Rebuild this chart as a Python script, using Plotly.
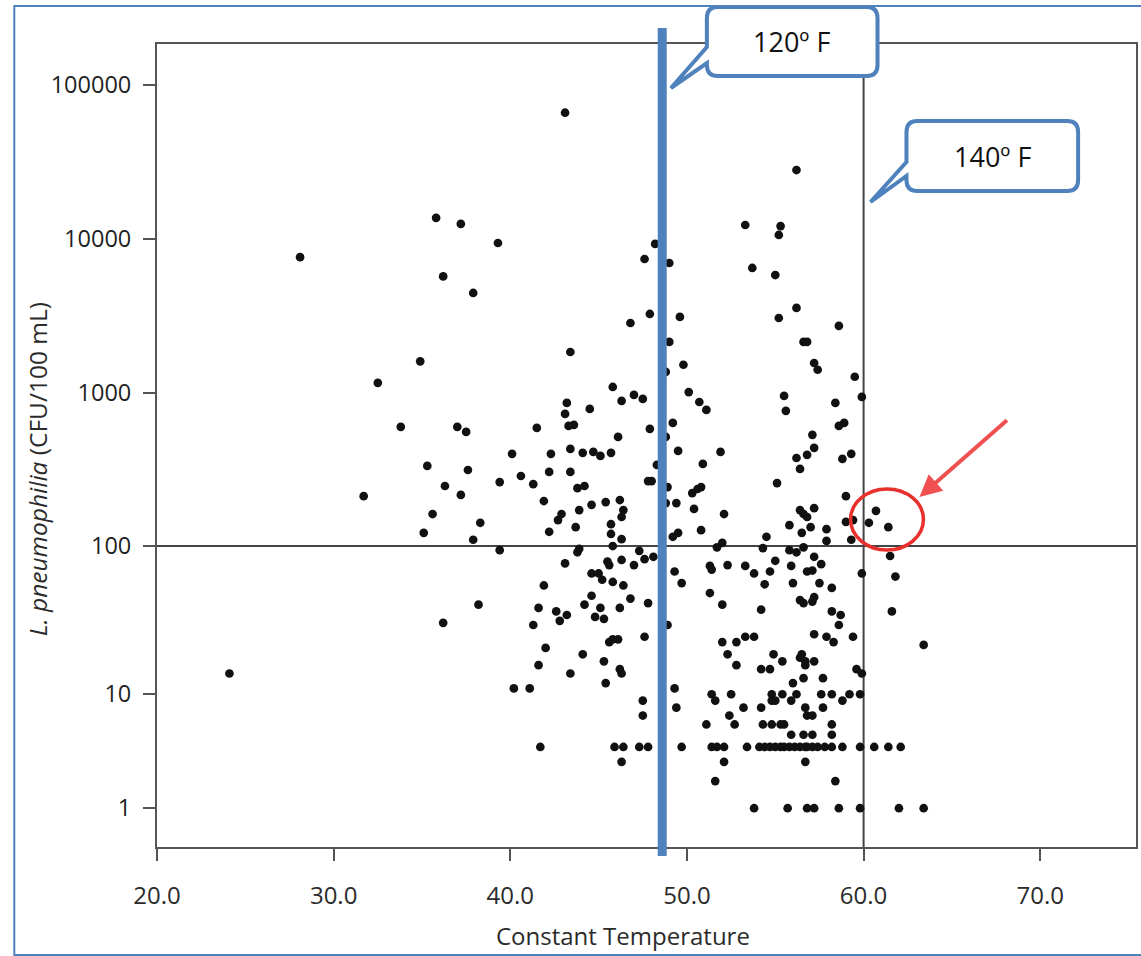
import plotly.graph_objects as go

# ---------------- data ----------------
# Temperature in deg C, L. pneumophila in CFU/100 mL
A_temp = [35.8, 37.2, 39.3, 28.1, 36.2, 37.9, 34.9, 32.5, 33.8, 37.0, 37.5, 35.3, 37.6, 39.4, 36.3, 37.2, 31.7, 35.6, 38.3, 35.1, 37.9, 39.4, 38.2, 36.2, 24.1]
A_cfu = [13700, 12500, 9400, 7600, 5700, 4450, 1600, 1160, 600, 600, 556, 334, 314, 262, 247, 216, 212, 162, 142, 122, 110, 94, 41, 31, 14]

B_temp = [43.1, 48.2, 47.6, 49.0, 47.9, 49.6, 46.8, 49.0, 43.4, 49.8, 48.8, 45.8, 50.1, 47.0, 46.3, 47.5, 50.7, 51.1, 43.2, 44.5,
          43.1, 43.3, 43.6, 41.5, 47.9, 49.2, 46.1, 48.8, 40.1, 42.3, 43.4, 44.1, 44.7, 45.1, 45.7, 49.5]
B_cfu = [66000, 9270, 7400, 6970, 3250, 3110, 2840, 2140, 1840, 1520, 1365, 1090, 1010, 968, 884, 911, 870, 773, 858, 785,
         728, 608, 617, 590, 582, 636, 516, 516, 400, 400, 431, 406, 412, 388, 406, 418]

C_temp = [56.2, 53.3, 55.3, 55.2, 53.7, 55.0, 56.2, 55.2, 58.6, 56.6, 56.8, 57.2, 57.4, 59.5, 59.9, 55.5, 55.6, 58.4, 58.6, 58.9,
          57.1, 57.2, 56.8, 56.2, 59.3, 58.8, 51.9]
C_cfu = [28000, 12300, 12100, 10600, 6470, 5820, 3560, 3060, 2720, 2140, 2140, 1560, 1410, 1270, 939, 953, 762, 858, 608, 636,
         532, 438, 394, 376, 400, 371, 412]

D_temp = [40.6, 41.3, 42.2, 43.4, 43.8, 44.2, 47.8, 41.9, 43.9, 44.6,
          45.4, 46.2, 46.4, 46.3, 42.7, 42.9, 42.2, 43.7, 45.7, 45.7,
          46.3, 45.8, 43.8, 43.9, 47.3, 47.6, 43.1, 45.5, 45.6, 46.3,
          47.0, 44.6, 45.0, 45.2, 45.8, 46.4, 41.9, 44.6, 46.8, 47.8,
          41.6, 44.2, 45.1, 46.2, 42.6, 43.2, 42.8, 44.8, 45.3, 41.3,
          47.6, 45.6, 45.8, 46.1, 42.0, 44.1, 41.6, 45.3, 46.2, 46.3,
          43.4, 45.4, 40.2, 41.1, 47.5, 47.5, 41.7, 45.9, 46.4, 47.3,
          47.8, 46.3]
D_cfu = [287, 254, 305, 305, 239, 247, 266, 197, 172, 186,
         194, 200, 172, 155, 148, 162, 124, 133, 139, 120,
         111, 100, 91, 96, 93, 82, 77, 79, 75, 81,
         75, 66, 66, 60, 58, 55, 55, 47, 45, 42,
         39, 41, 39, 39, 37, 35, 32, 34, 33, 30,
         25, 23, 24, 24, 21, 19, 16, 17, 15, 14,
         14, 12, 11, 11, 9, 7, 4, 4, 4, 4,
         4, 3]

E_temp = [48.3, 50.9, 56.4, 48.0, 48.9, 50.3, 50.6, 50.8, 55.1, 49.4,
          48.8, 50.4, 52.1, 56.4, 56.6, 55.8, 56.8, 49.2, 49.5, 50.8,
          54.5, 56.5, 51.7, 52.0, 48.1, 54.3, 55.8, 56.2, 56.6, 49.3,
          49.7, 51.3, 51.4, 52.3, 53.3, 53.8, 55.0, 54.7, 54.4, 55.9,
          56.0, 56.8, 51.3, 52.0, 54.2, 56.4, 56.6, 48.9, 52.0, 52.3,
          52.8, 52.8, 53.3, 53.8, 54.9, 55.4, 54.2, 54.7, 56.4, 56.7,
          56.6, 56.0, 49.3, 49.4, 51.4, 51.6, 52.5, 53.2, 52.4, 52.7,
          51.1, 54.2, 54.8, 54.8, 55.0, 55.4, 55.9, 56.2, 56.7, 56.8,
          54.3, 54.8, 55.3, 55.5, 55.9, 56.6]
E_cfu = [339, 344, 319, 266, 243, 222, 236, 243, 258, 191,
         191, 175, 162, 172, 162, 137, 155, 115, 122, 127,
         115, 122, 98, 105, 85, 97, 94, 91, 98, 68,
         57, 74, 70, 75, 74, 66, 80, 68, 56, 74,
         57, 68, 49, 41, 38, 44, 42, 30, 23, 19,
         16, 23, 25, 25, 19, 17, 15, 15, 18, 16,
         13, 12, 11, 8, 10, 9, 10, 8, 7, 6,
         6, 8, 10, 9, 9, 10, 9, 10, 8, 7,
         6, 6, 6, 6, 5, 5]

F_temp = [59.0, 57.2, 57.0, 57.9, 59.0, 59.4, 60.3, 60.7, 61.4, 57.9,
          59.3, 61.5, 57.2, 57.6, 57.1, 59.9, 61.8, 57.5, 58.2, 57.1,
          57.2, 61.6, 58.2, 58.7, 58.6, 57.2, 57.9, 58.3, 59.4, 63.4,
          56.5, 56.7, 57.2, 59.6, 59.9, 57.7, 57.6, 58.2, 58.8, 59.2,
          59.8, 57.1, 57.7, 58.2, 58.2, 57.1]
F_cfu = [212, 177, 133, 129, 144, 148, 142, 170, 133, 108,
         110, 86, 85, 76, 69, 66, 63, 57, 53, 43,
         46, 37, 37, 35, 30, 26, 25, 23, 25, 22,
         19, 17, 17, 15, 14, 13, 10, 10, 9, 10,
         10, 7, 8, 6, 5, 5]

# low-count rows (integer counts)
count4_temp = [49.7, 51.4, 51.7, 52.1, 53.4, 54.1, 54.4, 54.7, 55.0, 55.3, 55.5, 55.8, 56.1, 56.4, 56.7,
               56.8, 57.1, 57.4, 57.8, 58.2, 58.8, 59.8, 60.6, 61.4, 62.1]
count3_temp = [52.1, 56.7]
count2_temp = [51.6, 58.4]
count1_temp = [53.8, 55.7, 56.8, 57.2, 58.6, 59.8, 62.0, 63.4]

x_tick_values = [20, 30, 40, 50, 60, 70]
y_tick_values = [1, 10, 100, 1000, 10000, 100000]
threshold_cfu = 100        # horizontal reference line
threshold_140F_c = 60.0    # thin vertical reference line
threshold_120F_c = 48.6    # thick blue line
x_title = "Constant Temperature"
y_title = "<i>L. pneumophilia</i> (CFU/100 mL)"
label_120 = "120º F"
label_140 = "140º F"

# ---------------- assemble ----------------
groups = [(A_temp, A_cfu), (B_temp, B_cfu), (C_temp, C_cfu), (D_temp, D_cfu), (E_temp, E_cfu), (F_temp, F_cfu),
          (count4_temp, [4] * len(count4_temp)), (count3_temp, [3] * len(count3_temp)),
          (count2_temp, [2] * len(count2_temp)), (count1_temp, [1] * len(count1_temp))]
temps, cfus = [], []
for t, c in groups:
    assert len(t) == len(c)
    temps += t
    cfus += c

# axis is log10(count + 1), as in the source figure
y_plot = [c + 1 for c in cfus]

W, H = 1141, 956
ML, MR, MT, MB = 157, 3, 44, 109
PW, PH = W - ML - MR, H - MT - MB
X_MIN, X_MAX = 20.0, 75.42
Y_LOG_MIN, Y_LOG_MAX = 0.049, 5.266


def px(x):
    return (x - ML) / PW


def py(y):
    return (H - MB - y) / PH


def xfrac(v):
    return (v - X_MIN) / (X_MAX - X_MIN)


BLUE = "#4F81BD"
AX = "#555555"
TXT = "#2b2b2b"
FONT = "Open Sans, Liberation Sans, Arial, sans-serif"

fig = go.Figure()
fig.add_trace(go.Scatter(x=temps, y=y_plot, mode="markers",
                         marker=dict(size=8.7, color="#111111", line=dict(width=0)),
                         hoverinfo="skip", cliponaxis=True))


def callout(x0, y0, x1, y1, wy0, wy1, tx, ty, r=11):
    def p(x, y):
        return f"{px(x):.5f},{py(y):.5f}"
    return (f"M{p(x0 + r, y0)} L{p(x1 - r, y0)} Q{p(x1, y0)} {p(x1, y0 + r)} "
            f"L{p(x1, y1 - r)} Q{p(x1, y1)} {p(x1 - r, y1)} "
            f"L{p(x0 + r, y1)} Q{p(x0, y1)} {p(x0, y1 - r)} "
            f"L{p(x0, wy1)} L{p(tx, ty)} L{p(x0, wy0)} "
            f"L{p(x0, y0 + r)} Q{p(x0, y0)} {p(x0 + r, y0)} Z")


shapes = [
    # reference lines
    dict(type="line", xref="paper", yref="y", x0=0, x1=1, y0=threshold_cfu + 1, y1=threshold_cfu + 1,
         line=dict(color="#444444", width=2), layer="below"),
    dict(type="line", xref="x", yref="paper", x0=threshold_140F_c, x1=threshold_140F_c, y0=0, y1=1,
         line=dict(color="#444444", width=2), layer="below"),
    # thick blue 120F line (extends a bit beyond the frame)
    dict(type="line", xref="paper", yref="paper", x0=xfrac(threshold_120F_c), x1=xfrac(threshold_120F_c),
         y0=py(856), y1=py(28), line=dict(color=BLUE, width=9), layer="above"),
    # callouts
    dict(type="path", xref="paper", yref="paper", path=callout(708, 7, 879, 76, 47, 63, 672, 88),
         fillcolor="white", line=dict(color=BLUE, width=4), layer="above"),
    dict(type="path", xref="paper", yref="paper", path=callout(908, 121, 1080, 191, 162, 176, 872, 202),
         fillcolor="white", line=dict(color=BLUE, width=4), layer="above"),
    # red circle
    dict(type="circle", xref="paper", yref="paper", x0=px(852), x1=px(925), y0=py(550), y1=py(489),
         line=dict(color="#E8302C", width=3.5), layer="above"),
    # outer blue frame
    dict(type="rect", xref="paper", yref="paper", x0=px(14), x1=px(1160), y0=py(955), y1=py(6),
         line=dict(color=BLUE, width=2), fillcolor="rgba(0,0,0,0)", layer="above"),
]

annotations = [
    dict(text=x_title, xref="paper", yref="paper", x=px(624), y=py(935), showarrow=False,
         xanchor="center", yanchor="middle", font=dict(family=FONT, size=24, color=TXT)),
    dict(text=y_title, xref="paper", yref="paper", x=px(37), y=py(469), showarrow=False, textangle=-90,
         xanchor="center", yanchor="middle", font=dict(family=FONT, size=24.5, color=TXT)),
    dict(text=label_120, xref="paper", yref="paper", x=px(793), y=py(42), showarrow=False,
         xanchor="center", yanchor="middle", font=dict(family=FONT, size=27, color="#111111")),
    dict(text=label_140, xref="paper", yref="paper", x=px(994), y=py(156), showarrow=False,
         xanchor="center", yanchor="middle", font=dict(family=FONT, size=27, color="#111111")),
    dict(text="", xref="paper", yref="paper", x=px(921), y=py(497), ax=1010 - 921, ay=419 - 497,
         showarrow=True, arrowhead=2, arrowsize=1.1, arrowwidth=4, arrowcolor="#F05050", standoff=0),
]

fig.update_layout(
    width=W, height=H, margin=dict(l=ML, r=MR, t=MT, b=MB, pad=0),
    paper_bgcolor="white", plot_bgcolor="white", showlegend=False,
    shapes=shapes, annotations=annotations,
    xaxis=dict(range=[X_MIN, X_MAX], tickvals=x_tick_values, ticktext=[f"{v:.1f}" for v in x_tick_values],
               ticks="outside", ticklen=12, tickwidth=2, tickcolor=AX,
               showline=True, linecolor=AX, linewidth=2, mirror=True, showgrid=False, zeroline=False,
               tickfont=dict(family=FONT, size=24, color=TXT), ticklabelstandoff=14),
    yaxis=dict(type="log", range=[Y_LOG_MIN, Y_LOG_MAX], tickvals=[v + 1 for v in y_tick_values],
               ticktext=[str(v) for v in y_tick_values],
               ticks="outside", ticklen=12, tickwidth=2, tickcolor=AX,
               showline=True, linecolor=AX, linewidth=2, mirror=True, showgrid=False, zeroline=False,
               tickfont=dict(family=FONT, size=23.5, color="#1f1f1f"), ticklabelstandoff=7),
)

fig.write_html("out.html")
